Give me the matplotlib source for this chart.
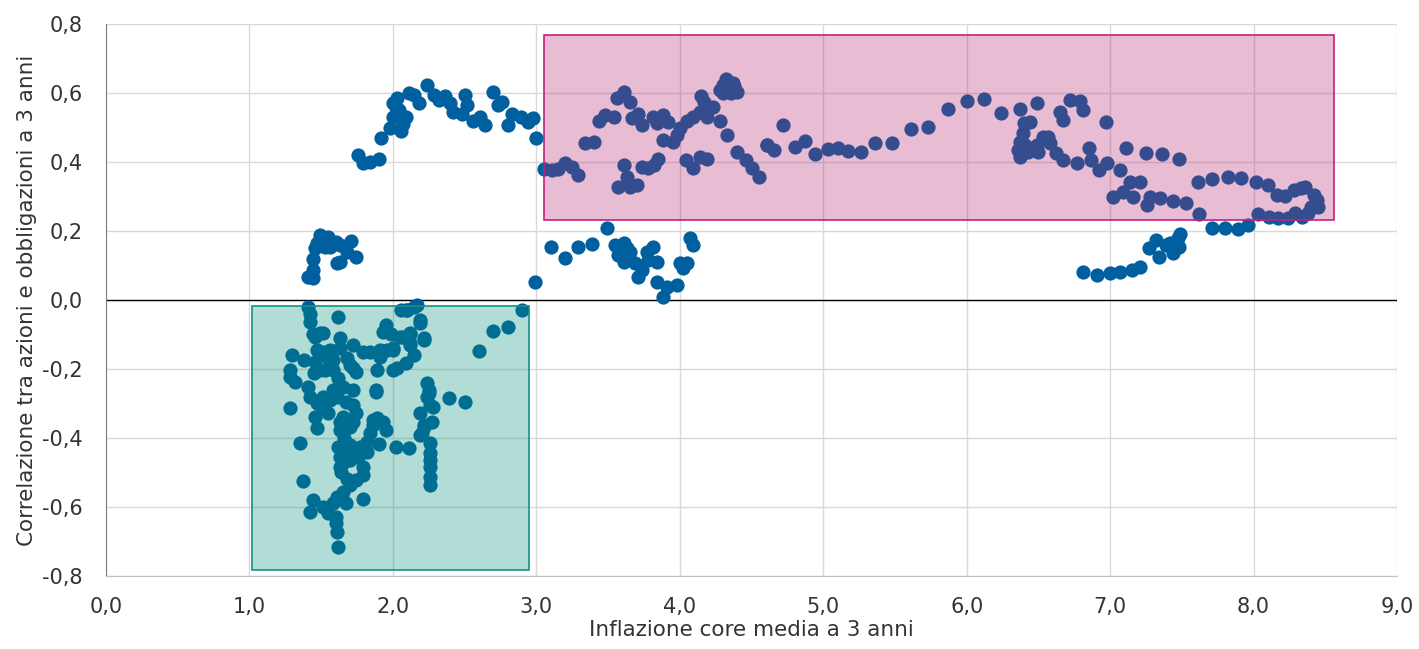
import numpy as np
import matplotlib
matplotlib.use("Agg")
import matplotlib.pyplot as plt
from matplotlib.patches import Rectangle
from matplotlib.ticker import FuncFormatter

plt.rcParams['font.family'] = ['DejaVu Sans']

# points, (inflazione, correlazione), grouped by area
low_hook = [(1.41, 0.067), (1.44, 0.064), (1.44, 0.087), (1.44, 0.12), (1.46, 0.15), (1.47, 0.165),
            (1.49, 0.188), (1.53, 0.155), (1.55, 0.183), (1.56, 0.155), (1.60, 0.168), (1.63, 0.16),
            (1.61, 0.107), (1.63, 0.11), (1.68, 0.14), (1.71, 0.17), (1.74, 0.125), (1.51, 0.175)]

arc = [(1.76, 0.42), (1.79, 0.397), (1.84, 0.40), (1.90, 0.41), (1.92, 0.47), (1.98, 0.50),
       (2.06, 0.49), (2.09, 0.53), (2.02, 0.56), (2.03, 0.585), (2.11, 0.60), (2.18, 0.57),
       (2.15, 0.594), (2.24, 0.623), (2.29, 0.594), (2.32, 0.58), (2.36, 0.59), (2.40, 0.57),
       (2.42, 0.545), (2.48, 0.54), (2.50, 0.594), (2.52, 0.565), (2.56, 0.52), (2.61, 0.53),
       (2.64, 0.507), (2.70, 0.603), (2.73, 0.565), (2.76, 0.574), (2.80, 0.507), (2.83, 0.54),
       (2.89, 0.53), (2.94, 0.516), (2.98, 0.527), (3.00, 0.47), (2.00, 0.53), (2.00, 0.57),
       (2.04, 0.55), (2.07, 0.51)]

mid_high = [(3.05, 0.38), (3.11, 0.377), (3.15, 0.38), (3.20, 0.397), (3.25, 0.386), (3.29, 0.362),
            (3.34, 0.455), (3.40, 0.458), (3.44, 0.52), (3.48, 0.536), (3.54, 0.53), (3.56, 0.585),
            (3.61, 0.603), (3.65, 0.574), (3.61, 0.39), (3.63, 0.357), (3.57, 0.328), (3.65, 0.328),
            (3.70, 0.333), (3.67, 0.527), (3.71, 0.54), (3.74, 0.507), (3.81, 0.53), (3.84, 0.513),
            (3.88, 0.536), (3.92, 0.516), (3.74, 0.386), (3.78, 0.383), (3.82, 0.39), (3.85, 0.41),
            (3.88, 0.464), (3.95, 0.458), (3.98, 0.478), (4.00, 0.50), (4.04, 0.406), (4.09, 0.383),
            (4.05, 0.52), (4.09, 0.53), (4.14, 0.545), (4.15, 0.59), (4.14, 0.415), (4.19, 0.41),
            (4.19, 0.53), (4.23, 0.56), (4.28, 0.52), (4.33, 0.478), (4.30, 0.623), (4.37, 0.63),
            (4.40, 0.603), (4.40, 0.43), (4.46, 0.406), (4.50, 0.383), (4.55, 0.357), (4.61, 0.45),
            (4.28, 0.61), (4.32, 0.64), (4.35, 0.63), (4.38, 0.62), (4.36, 0.60), (4.30, 0.60),
            (4.34, 0.615), (4.17, 0.575)]

mid_low = [(2.99, 0.052), (3.10, 0.154), (3.20, 0.122), (3.29, 0.154), (3.39, 0.162), (3.49, 0.209),
           (3.55, 0.16), (3.61, 0.165), (3.58, 0.14), (3.65, 0.14), (3.57, 0.13), (3.61, 0.11),
           (3.69, 0.107), (3.74, 0.087), (3.71, 0.067), (3.77, 0.14), (3.81, 0.154), (3.84, 0.11),
           (3.78, 0.116), (3.84, 0.052), (3.88, 0.01), (3.91, 0.038), (3.98, 0.043), (4.00, 0.107),
           (4.05, 0.107), (4.07, 0.18), (4.09, 0.16), (4.02, 0.093), (3.59, 0.155), (3.63, 0.15)]

plateau = [(4.72, 0.507), (4.61, 0.45), (4.66, 0.435), (4.80, 0.443), (4.87, 0.461), (4.94, 0.423),
           (5.03, 0.438), (5.10, 0.441), (5.17, 0.432), (5.26, 0.429), (5.36, 0.455), (5.48, 0.455),
           (5.61, 0.496), (5.73, 0.501), (5.87, 0.554), (6.00, 0.577), (6.12, 0.583), (6.24, 0.542),
           (6.37, 0.554), (6.49, 0.571)]

high = [(6.40, 0.513), (6.44, 0.516), (6.39, 0.484), (6.37, 0.458), (6.36, 0.435), (6.37, 0.415),
        (6.41, 0.45), (6.43, 0.43), (6.49, 0.45), (6.53, 0.472), (6.57, 0.472), (6.58, 0.455),
        (6.50, 0.43), (6.62, 0.426), (6.67, 0.406), (6.77, 0.397), (6.65, 0.545), (6.67, 0.522),
        (6.72, 0.58), (6.79, 0.577), (6.81, 0.551), (6.85, 0.44), (6.87, 0.406), (6.92, 0.377),
        (6.97, 0.516), (6.98, 0.397), (7.02, 0.299), (7.07, 0.377), (7.09, 0.313), (7.11, 0.44),
        (7.14, 0.342), (7.16, 0.299), (7.21, 0.342), (7.25, 0.426), (7.26, 0.275), (7.28, 0.299),
        (7.36, 0.423), (7.48, 0.409), (7.35, 0.296), (7.44, 0.287), (7.53, 0.281), (7.62, 0.249),
        (7.61, 0.342), (7.71, 0.351), (7.82, 0.357), (7.91, 0.354), (8.02, 0.342), (8.10, 0.333),
        (8.16, 0.304), (8.22, 0.301), (8.28, 0.319), (8.33, 0.325), (8.36, 0.328), (8.42, 0.304),
        (8.44, 0.29), (8.45, 0.27), (8.40, 0.27), (8.38, 0.252), (8.34, 0.241), (8.29, 0.252),
        (8.24, 0.238), (8.17, 0.238), (8.11, 0.241), (8.03, 0.249)]

high_low = [(7.71, 0.209), (7.80, 0.209), (7.89, 0.206), (7.96, 0.217), (6.81, 0.081), (6.91, 0.072),
            (7.00, 0.078), (7.07, 0.081), (7.15, 0.087), (7.21, 0.096), (7.27, 0.151), (7.32, 0.174),
            (7.34, 0.125), (7.39, 0.16), (7.44, 0.136), (7.48, 0.154), (7.49, 0.191), (7.47, 0.18),
            (7.42, 0.165)]

negative = [(1.41, -0.02), (1.42, -0.04), (1.42, -0.064), (1.62, -0.049), (1.46, -0.107), (1.51, -0.096),
            (1.63, -0.11), (1.30, -0.16), (1.28, -0.203), (1.28, -0.223), (1.32, -0.238), (1.28, -0.313),
            (1.38, -0.174), (1.47, -0.145), (1.46, -0.18), (1.45, -0.212), (1.41, -0.252), (1.42, -0.281),
            (1.47, -0.299), (1.46, -0.339), (1.51, -0.151), (1.56, -0.145), (1.55, -0.168), (1.53, -0.203),
            (1.58, -0.203), (1.62, -0.226), (1.65, -0.252), (1.58, -0.261), (1.56, -0.29), (1.51, -0.281),
            (1.51, -0.313), (1.55, -0.328), (1.61, -0.281), (1.67, -0.296), (1.72, -0.261), (1.72, -0.304),
            (1.74, -0.328), (1.65, -0.339), (1.63, -0.354), (1.72, -0.354), (1.70, -0.188), (1.74, -0.209),
            (1.68, -0.168), (1.72, -0.13), (1.63, -0.139), (1.58, -0.174), (1.49, -0.203), (1.88, -0.261),
            (1.89, -0.203), (1.89, -0.342), (1.93, -0.354), (1.79, -0.151), (1.84, -0.151), (1.91, -0.145),
            (1.96, -0.145), (2.00, -0.145), (1.91, -0.165), (1.95, -0.072), (1.93, -0.093), (2.06, -0.029),
            (2.07, -0.107), (2.00, -0.203), (2.03, -0.197), (1.99, -0.10), (2.12, -0.096), (2.10, -0.029),
            (2.15, -0.02), (2.19, -0.058), (2.22, -0.11), (2.12, -0.13), (2.15, -0.16), (2.09, -0.183),
            (1.72, -0.197), (1.49, -0.096), (1.44, -0.10),
            (2.90, -0.029), (2.70, -0.09), (2.80, -0.078), (2.60, -0.148), (2.39, -0.284), (2.50, -0.296),
            (2.24, -0.241), (2.25, -0.26), (2.24, -0.28), (2.28, -0.31), (2.19, -0.328), (2.27, -0.353),
            (2.22, -0.368), (2.19, -0.391), (2.26, -0.414), (2.26, -0.443), (2.26, -0.464), (2.26, -0.484),
            (2.26, -0.513), (2.26, -0.536), (2.02, -0.426), (2.11, -0.429), (2.19, -0.067), (2.22, -0.116),
            (2.12, -0.10), (2.12, -0.125), (2.05, -0.107), (2.09, -0.029), (2.17, -0.014), (2.00, -0.14),
            (2.22, -0.362), (2.20, -0.386), (2.25, -0.27), (2.26, -0.304),
            (1.35, -0.415), (1.37, -0.525), (1.44, -0.58), (1.42, -0.614), (1.51, -0.60), (1.55, -0.617),
            (1.60, -0.629), (1.61, -0.672), (1.62, -0.716), (1.60, -0.646), (1.58, -0.588), (1.61, -0.571),
            (1.65, -0.556), (1.67, -0.588), (1.70, -0.536), (1.74, -0.522), (1.79, -0.507), (1.79, -0.484),
            (1.79, -0.577), (1.63, -0.484), (1.63, -0.455), (1.62, -0.426), (1.70, -0.42), (1.70, -0.464),
            (1.76, -0.455), (1.77, -0.426), (1.82, -0.441), (1.82, -0.411), (1.84, -0.386), (1.86, -0.362),
            (1.90, -0.417), (1.95, -0.377), (1.47, -0.371), (1.63, -0.377), (1.70, -0.368), (1.86, -0.348),
            (1.88, -0.267), (1.64, -0.50), (1.66, -0.47), (1.68, -0.44), (1.66, -0.40), (1.68, -0.52)]

box_low = (1.02, -0.783, 2.95, -0.017)   # x0, y0, x1, y1
box_high = (3.05, 0.232, 8.56, 0.768)

pts = np.array(low_hook + arc + mid_high + mid_low + plateau + high + high_low + negative)

fig = plt.figure(figsize=(14.19, 6.49), dpi=100)
ax = fig.add_axes([0.0747, 0.1125, 0.9098, 0.8505])

ax.scatter(pts[:, 0], pts[:, 1], s=105, color="#00609f", linewidths=0, zorder=3)

ax.add_patch(Rectangle((box_low[0], box_low[1]), box_low[2] - box_low[0], box_low[3] - box_low[1],
                       facecolor=(0.0, 0.56, 0.47, 0.3), edgecolor="#16927e", linewidth=1.2, zorder=4))
ax.add_patch(Rectangle((box_high[0], box_high[1]), box_high[2] - box_high[0], box_high[3] - box_high[1],
                       facecolor=(0.70, 0.13, 0.42, 0.3), edgecolor="#c41f7c", linewidth=1.2, zorder=4))

ax.axhline(0, color="black", linewidth=1.0, zorder=2)

ax.set_xlim(0, 9)
ax.set_ylim(-0.8, 0.8)
ax.set_xticks(np.arange(0, 9.01, 1.0))
ax.set_yticks(np.arange(-0.8, 0.81, 0.2))
fmt = FuncFormatter(lambda v, p: ("%.1f" % v).replace(".", ",").replace("-0,0", "0,0"))
ax.xaxis.set_major_formatter(fmt)
ax.yaxis.set_major_formatter(fmt)
ax.tick_params(length=0, labelsize=15, colors="#333333")
ax.tick_params(axis="x", pad=15)
ax.tick_params(axis="y", pad=17)
ax.grid(True, color="#d9d9d9", linewidth=1.0, zorder=0)
ax.set_axisbelow(True)

for s in ["top", "right"]:
    ax.spines[s].set_visible(False)
ax.spines["left"].set_color("#7f7f7f")
ax.spines["bottom"].set_color("#bfbfbf")

ax.set_xlabel("Inflazione core media a 3 anni", fontsize=15.5, color="#333333", labelpad=2)
ax.set_ylabel("Correlazione tra azioni e obbligazioni a 3 anni", fontsize=15.5, color="#333333", labelpad=3)

fig.savefig("out.png", dpi=100)
